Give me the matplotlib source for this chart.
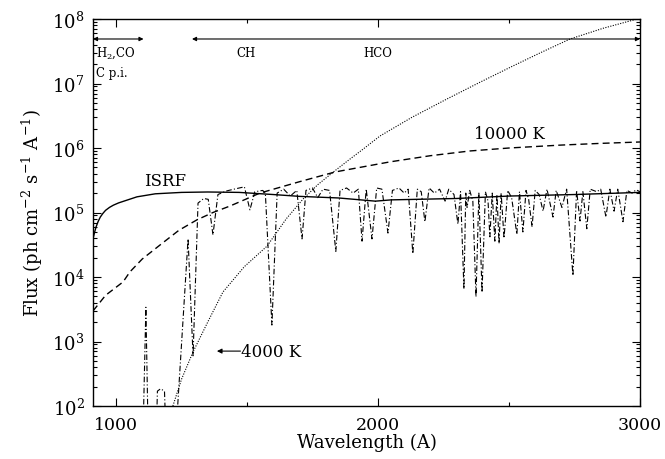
import numpy as np
import matplotlib
matplotlib.use('Agg')
import matplotlib.pyplot as plt
from matplotlib.ticker import LogLocator, LogFormatterMathtext, MultipleLocator, NullFormatter

plt.rcParams['font.family'] = 'DejaVu Serif'
plt.rcParams['mathtext.fontset'] = 'dejavuserif'

# ---------------------------------------------------------------------------
# Data (wavelength in A, flux in ph cm-2 s-1 A-1)
# ---------------------------------------------------------------------------

isrf_wave = [912, 918, 924, 932, 940, 950, 960, 975, 990, 1010, 1030, 1080,
             1150, 1250, 1350, 1470, 1600, 1700, 1850, 1990, 2050, 2300, 2500,
             2750, 3000]
isrf_flux = [3.9e4, 4.9e4, 6.0e4, 7.3e4, 8.5e4, 9.7e4, 1.08e5, 1.2e5, 1.3e5,
             1.41e5, 1.5e5, 1.75e5, 1.95e5, 2.05e5, 2.08e5, 2.05e5, 1.9e5,
             1.78e5, 1.68e5, 1.5e5, 1.57e5, 1.65e5, 1.8e5, 1.9e5, 2.05e5]

bb10k_wave = [912, 960, 1027, 1053, 1100, 1179, 1240, 1309, 1370, 1435, 1549,
              1700, 1836, 2046, 2200, 2351, 2500, 2698, 2850, 3000]
bb10k_flux = [2.97e3, 5.2e3, 8.4e3, 1.2e4, 1.9e4, 3.4e4, 5.3e4, 7.7e4, 1.0e5,
              1.26e5, 2.0e5, 3.0e5, 4.25e5, 6.1e5, 7.6e5, 9.0e5, 1.0e6,
              1.11e6, 1.18e6, 1.24e6]

bb4k_wave = [1217, 1250, 1294, 1350, 1408, 1490, 1576, 1650, 1714, 1770, 1828,
             1890, 1943, 2007, 2130, 2263, 2390, 2515, 2620, 2733, 2860, 2989, 3000]
bb4k_flux = [1.0e2, 2.6e2, 6.9e2, 2.0e3, 5.85e3, 1.45e4, 3.0e4, 8.0e4, 1.62e5,
             2.7e5, 4.2e5, 6.6e5, 9.6e5, 1.53e6, 3.0e6, 5.75e6, 1.05e7,
             1.87e7, 3.0e7, 4.9e7, 7.2e7, 1.0e8, 1.03e8]

spec_wave = [912, 1100, 1114, 1125, 1150, 1158, 1170, 1185, 1195, 1220, 1275,
             1294, 1313, 1335, 1352, 1370, 1389, 1420, 1450, 1490, 1511, 1530,
             1560, 1570, 1595, 1615, 1640, 1665, 1690, 1710, 1725, 1750, 1770,
             1790, 1815, 1839, 1855, 1880, 1905, 1925, 1939, 1955, 1977, 1995,
             2015, 2038, 2055, 2080, 2100, 2115, 2133, 2150, 2165, 2179, 2195,
             2215, 2235, 2256, 2270, 2290, 2305, 2315, 2328, 2335, 2340, 2350,
             2362, 2374, 2385, 2397, 2410, 2420, 2427, 2436, 2446, 2454, 2462,
             2470, 2481, 2495, 2510, 2530, 2540, 2553, 2565, 2575, 2588, 2600,
             2615, 2630, 2645, 2668, 2680, 2702, 2720, 2744, 2758, 2771, 2782,
             2797, 2810, 2835, 2850, 2870, 2885, 2901, 2915, 2935, 2950, 2970,
             2985, 3000]
spec_flux = [10, 10, 3.4e3, 10, 10, 170, 185, 170, 10, 10, 3.9e4,
             600, 1.4e5, 1.65e5, 1.6e5, 4.5e4, 1.9e5, 2.15e5, 2.3e5, 2.5e5, 1.1e5, 2.1e5,
             2.2e5, 2.0e5, 1.8e3, 2.0e5, 2.3e5, 1.8e5, 2.2e5, 3.9e4, 2.2e5, 2.4e5, 1.7e5,
             2.3e5, 2.2e5, 2.5e4, 2.2e5, 2.4e5, 2.0e5, 2.3e5, 3.6e4, 2.3e5, 3.9e4, 2.4e5,
             2.3e5, 4.8e4, 2.2e5, 2.4e5, 2.0e5, 2.3e5, 2.3e4, 2.3e5, 2.1e5, 7.2e4, 2.4e5,
             2.0e5, 2.3e5, 1.5e5, 2.3e5, 1.9e5, 6.6e4, 2.1e5, 6.5e3, 2.0e5, 1.2e5, 2.2e5,
             1.5e5, 4.9e3, 2.0e5, 5.8e3, 2.1e5, 1.5e5, 4.2e4, 2.0e5, 3.6e4, 1.9e5, 3.3e4,
             2.0e5, 4.0e4, 2.2e5, 1.7e5, 4.6e4, 2.1e5, 5.0e4, 2.2e5, 1.6e5, 6.0e4, 2.2e5,
             1.9e5, 1.05e5, 2.3e5, 8.5e4, 2.2e5, 1.2e5, 2.3e5, 1.05e4, 2.2e5, 7.4e4, 2.1e5,
             5.6e4, 2.3e5, 2.1e5, 2.3e5, 8.5e4, 2.3e5, 1.05e5, 2.3e5, 7.2e4, 2.2e5, 2.0e5,
             2.25e5, 2.1e5]

# ---------------------------------------------------------------------------
# Plot
# ---------------------------------------------------------------------------

fig = plt.figure(figsize=(6.65, 4.6), dpi=100)
ax = fig.add_axes([0.1398, 0.1152, 0.8226, 0.8413])

ax.plot(isrf_wave, isrf_flux, color='black', lw=1.0, ls='-')
ax.plot(bb10k_wave, bb10k_flux, color='black', lw=1.0, ls=(0, (5, 3)))
ax.plot(bb4k_wave, bb4k_flux, color='black', lw=0.8, ls=(0, (1, 1.3)))
ax.plot(spec_wave, spec_flux, color='black', lw=0.8, ls=(0, (5, 2, 1, 2)))

ax.set_xlim(912, 3000)
ax.set_ylim(1e2, 1e8)
ax.set_yscale('log')

ax.xaxis.set_major_locator(MultipleLocator(1000))
ax.xaxis.set_minor_locator(MultipleLocator(500))
ax.yaxis.set_major_locator(LogLocator(base=10, numticks=10))
ax.yaxis.set_minor_locator(LogLocator(base=10, subs=np.arange(2, 10), numticks=20))
ax.yaxis.set_major_formatter(LogFormatterMathtext())
ax.yaxis.set_minor_formatter(NullFormatter())

ax.tick_params(which='both', direction='in', top=True, right=True, width=0.8,
               labelsize=13)
ax.tick_params(which='major', length=6)
ax.tick_params(which='minor', length=3)
ax.tick_params(axis='x', pad=7, labelsize=12.5)
ax.tick_params(axis='y', pad=6)
for s in ax.spines.values():
    s.set_linewidth(1.0)

ax.set_xlabel('Wavelength (A)', fontsize=13, labelpad=0)
ax.set_ylabel('Flux (ph cm$^{-2}$ s$^{-1}$ A$^{-1}$)', fontsize=13, labelpad=5)

# curve labels
ax.text(1187, 3.1e5, 'ISRF', fontsize=12, ha='center', va='center')
ax.text(2500, 1.7e6, '10000 K', fontsize=12, ha='center', va='center')
ax.text(1478, 7.1e2, '4000 K', fontsize=12, ha='left', va='center')
ax.annotate('', xy=(1385, 7.1e2), xytext=(1475, 7.1e2),
            arrowprops=dict(arrowstyle='-|>', color='black', lw=0.8,
                            mutation_scale=7, shrinkA=0, shrinkB=0))

# photodissociation ranges along the top
arrow_y = 4.9e7
ax.annotate('', xy=(912, arrow_y), xytext=(1105, arrow_y),
            arrowprops=dict(arrowstyle='<|-|>', color='black', lw=0.8,
                            mutation_scale=6, shrinkA=0, shrinkB=0))
ax.annotate('', xy=(1290, arrow_y), xytext=(3000, arrow_y),
            arrowprops=dict(arrowstyle='<|-|>', color='black', lw=0.8,
                            mutation_scale=6, shrinkA=0, shrinkB=0))
ax.text(922, 3.05e7, 'H$_2$,CO', fontsize=8.5, ha='left', va='center')
ax.text(922, 1.5e7, 'C p.i.', fontsize=8.5, ha='left', va='center')
ax.text(1496, 3.05e7, 'CH', fontsize=8.5, ha='center', va='center')
ax.text(2000, 3.05e7, 'HCO', fontsize=8.5, ha='center', va='center')

fig.savefig('out.png', dpi=100)
